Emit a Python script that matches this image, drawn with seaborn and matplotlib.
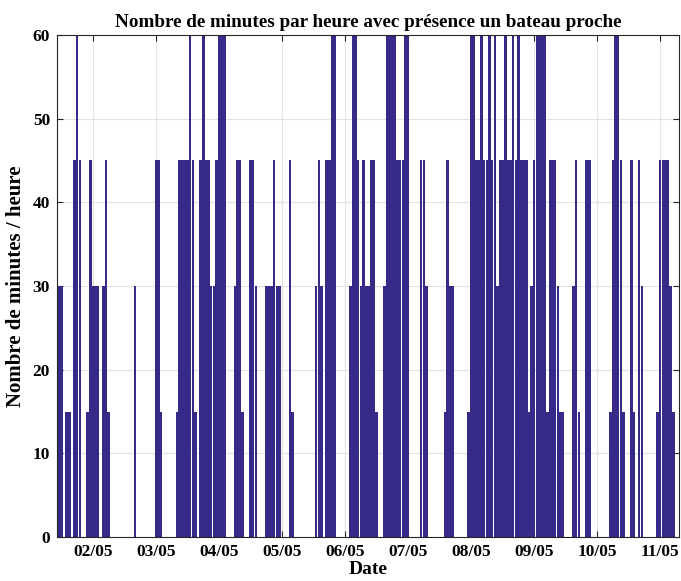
"""
Bar chart of minutes per hour with a boat nearby (hourly counts, 01/05 -> 11/05).
"""

import matplotlib

matplotlib.use("Agg")
import matplotlib.pyplot as plt
import pandas as pd
import seaborn as sns

# hours counted from 01/05 00:00, only hours with a detection are listed
hours = [
    11, 12, 14, 15, 17, 18, 19, 22, 23, 24, 25, 26, 28, 29, 30, 40,
    48, 49, 50, 56, 57, 58, 59, 60, 61, 62, 63,
    65, 66, 67, 68, 69, 70, 71, 72, 73, 74,
    78, 79, 80, 81, 84, 85, 86, 90, 91, 92, 93, 94, 95, 99, 100,
    109, 110, 111, 113, 114, 115, 116,
    122, 123, 124, 125, 126, 127, 128, 129, 130, 131, 132,
    135, 136, 137, 138, 139, 140, 141, 142, 143, 144,
    149, 150, 151, 158, 159, 160, 161,
    167, 168, 169, 170, 171, 172, 173, 174, 175, 176, 177,
    178, 179, 180, 181, 182, 183, 184, 185, 186, 187, 188, 189, 190,
    191, 192, 193, 194, 195, 196, 197, 198, 199, 200, 201, 202, 203,
    207, 208, 209, 212, 213,
    221, 222, 223, 224, 225, 226, 229, 230, 232, 233,
    239, 240, 241, 242, 243, 244, 245,
]
minutes = [
    30, 30, 15, 15, 45, 60, 45, 15, 45, 30, 30, 30, 30, 45, 15, 30,
    45, 45, 15, 15, 45, 45, 45, 45, 60, 45, 15,
    45, 60, 45, 45, 30, 30, 45, 60, 60, 60,
    30, 45, 45, 15, 45, 45, 30, 30, 30, 30, 45, 30, 30, 45, 15,
    30, 45, 30, 45, 45, 60, 60,
    30, 60, 60, 45, 30, 45, 30, 30, 45, 45, 15,
    30, 60, 60, 60, 60, 45, 45, 45, 60, 60,
    45, 45, 30, 15, 45, 30, 30,
    15, 60, 60, 45, 45, 60, 45, 45, 60, 45, 60,
    30, 45, 45, 60, 45, 45, 60, 45, 60, 45, 45, 45, 15,
    30, 45, 60, 60, 60, 60, 15, 45, 45, 45, 30, 15, 15,
    30, 45, 15, 45, 45,
    15, 45, 60, 60, 45, 15, 45, 15, 45, 30,
    15, 45, 45, 45, 45, 30, 15,
]
day_labels = ["02/05", "03/05", "04/05", "05/05", "06/05",
              "07/05", "08/05", "09/05", "10/05", "11/05"]
y_ticks = [0, 10, 20, 30, 40, 50, 60]

sns.set_style("ticks")
plt.rcParams["font.family"] = ["Liberation Serif", "DejaVu Serif"]
plt.rcParams["font.weight"] = "bold"
plt.rcParams["text.color"] = "black"
plt.rcParams["axes.labelcolor"] = "black"

df = pd.DataFrame({"hour": hours, "minutes": minutes})

fig = plt.figure(figsize=(6.81, 5.81), dpi=100)
ax = fig.add_axes([0.0837, 0.0757, 0.9135, 0.8641])

sns.barplot(
    data=df,
    x="hour",
    y="minutes",
    native_scale=True,
    width=0.95,
    color="#352A87",
    saturation=1,
    errorbar=None,
    linewidth=0,
    ax=ax,
)

ax.set_xlim(10.3, 247.2)
ax.set_ylim(0, 60)
ax.set_xticks([24 * (i + 1) for i in range(len(day_labels))])
ax.set_xticklabels(day_labels)
ax.set_yticks(y_ticks)

ax.set_axisbelow(True)
ax.grid(True, color="#e3e3e3", linewidth=0.8)
ax.tick_params(axis="both", direction="in", length=4, width=0.8,
               top=True, right=True, labelsize=12.5, colors="#262626",
               pad=5)
for lab in ax.get_xticklabels() + ax.get_yticklabels():
    lab.set_fontweight("bold")
    lab.set_color("black")
for spine in ax.spines.values():
    spine.set_visible(True)
    spine.set_color("#262626")
    spine.set_linewidth(0.8)

ax.set_title("Nombre de minutes par heure avec présence un bateau proche",
             fontsize=13.8, fontweight="bold", pad=6, color="black")
ax.set_xlabel("Date", fontsize=14, fontweight="bold", labelpad=1)
ax.set_ylabel("Nombre de minutes / heure", fontsize=15, fontweight="bold",
              labelpad=5)

fig.savefig("out.png", dpi=100)
plt.close(fig)
